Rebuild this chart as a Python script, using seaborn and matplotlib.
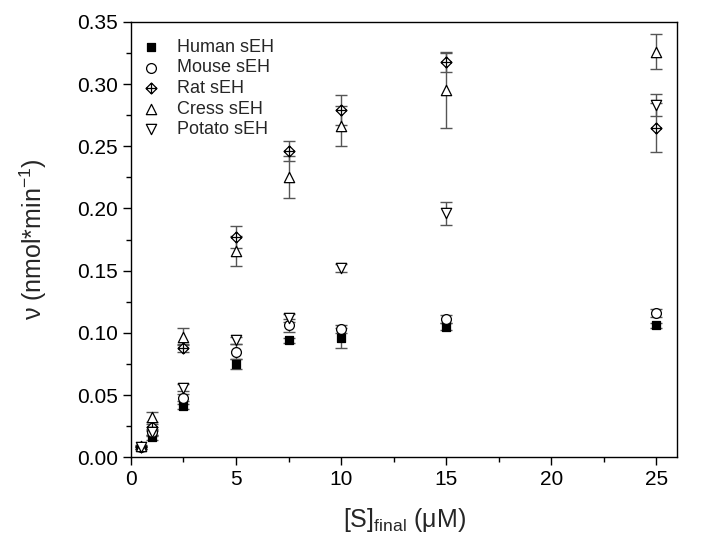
import numpy as np
import pandas as pd
import matplotlib
matplotlib.use("Agg")
import matplotlib.pyplot as plt
from matplotlib.path import Path
from matplotlib.ticker import MultipleLocator
import seaborn as sns

# ---- data ----
conc = [0.5, 1, 2.5, 5, 7.5, 10, 15, 25]
human = [0.008, 0.016, 0.041, 0.075, 0.094, 0.096, 0.105, 0.106]
human_err = [0.001, 0.002, 0.002, 0.004, 0.002, 0.008, 0.003, 0.002]
mouse = [0.008, 0.020, 0.048, 0.085, 0.106, 0.103, 0.111, 0.116]
mouse_err = [0.001, 0.003, 0.003, 0.006, 0.005, 0.003, 0.003, 0.003]
rat = [0.008, 0.024, 0.088, 0.177, 0.246, 0.279, 0.318, 0.265]
rat_err = [0.001, 0.003, 0.003, 0.009, 0.008, 0.012, 0.008, 0.020]
cress = [0.009, 0.032, 0.097, 0.166, 0.225, 0.266, 0.295, 0.326]
cress_err = [0.001, 0.004, 0.007, 0.012, 0.017, 0.016, 0.030, 0.014]
potato = [0.008, 0.020, 0.056, 0.094, 0.112, 0.152, 0.196, 0.283]
potato_err = [0.001, 0.002, 0.003, 0.003, 0.003, 0.003, 0.009, 0.009]
labels = ["Human sEH", "Mouse sEH", "Rat sEH", "Cress sEH", "Potato sEH"]

series = [human, mouse, rat, cress, potato]
errors = [human_err, mouse_err, rat_err, cress_err, potato_err]

# diamond with cross marker
verts = [(0, 1), (1, 0), (0, -1), (-1, 0), (0, 1),
         (0, 1), (0, -1), (-1, 0), (1, 0)]
codes = [Path.MOVETO, Path.LINETO, Path.LINETO, Path.LINETO, Path.CLOSEPOLY,
         Path.MOVETO, Path.LINETO, Path.MOVETO, Path.LINETO]
rat_marker = Path(verts, codes)

markers = ["s", "o", rat_marker, "^", "v"]
faces = ["black", "white", "white", "white", "white"]
sizes = [38, 50, 62, 55, 55]

sns.set_theme(style="ticks")
plt.rcParams["font.family"] = ["Liberation Sans", "DejaVu Sans"]
plt.rcParams["mathtext.fontset"] = "custom"
plt.rcParams["mathtext.rm"] = "Liberation Sans"

fig = plt.figure(figsize=(7.04, 5.45), dpi=100)
ax = fig.add_axes([0.186, 0.161, 0.776, 0.799])

for y, e in zip(series, errors):
    ax.errorbar(conc, y, yerr=e, fmt="none", ecolor="#555555",
                elinewidth=1.0, capsize=4, capthick=1.0, zorder=1)

for y, lab, m, fc, s in zip(series, labels, markers, faces, sizes):
    df = pd.DataFrame({"x": conc, "y": y})
    sns.scatterplot(data=df, x="x", y="y", marker=m, s=s, facecolor=fc,
                    edgecolor="black", linewidth=0.9, label=lab, ax=ax, zorder=3)

ax.set_xlim(0, 26)
ax.set_ylim(0, 0.35)
ax.xaxis.set_major_locator(MultipleLocator(5))
ax.xaxis.set_minor_locator(MultipleLocator(2.5))
ax.yaxis.set_major_locator(MultipleLocator(0.05))
ax.yaxis.set_minor_locator(MultipleLocator(0.025))
ax.yaxis.set_major_formatter(matplotlib.ticker.FormatStrFormatter("%.2f"))
ax.tick_params(axis="both", which="major", direction="out", length=6,
               width=1, labelsize=15, color="black", labelcolor="black")
ax.tick_params(axis="both", which="minor", direction="out", length=3.5,
               width=1, color="black")
for sp in ax.spines.values():
    sp.set_visible(True)
    sp.set_color("black")
    sp.set_linewidth(1.0)

ax.set_xlabel("[S]$_{\\mathregular{final}}$ (μM)", fontsize=18, labelpad=12)
ax.set_ylabel("ν (nmol*min$^{\\mathregular{-1}}$)", fontsize=18, labelpad=20)

leg = ax.legend(loc="upper left", frameon=False, fontsize=13,
                handletextpad=0.45, borderaxespad=0.3, labelspacing=0.2,
                bbox_to_anchor=(-0.02, 0.99))

fig.savefig("out.png", dpi=100)
